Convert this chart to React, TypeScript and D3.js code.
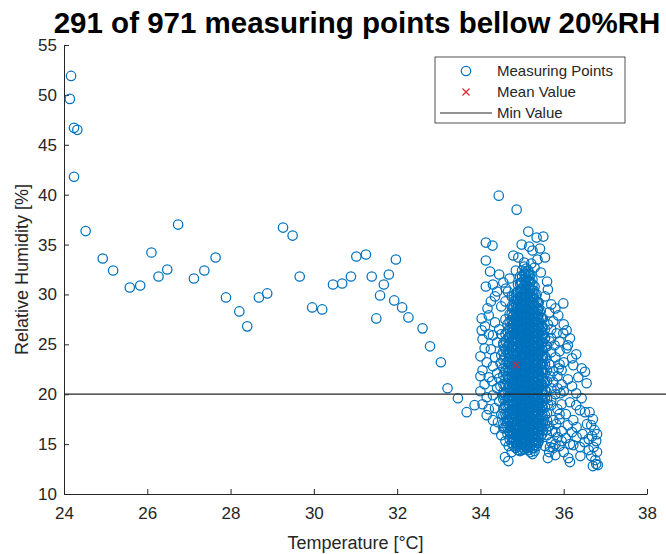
import { useEffect, useRef } from "react";
import * as d3 from "d3";

// [temperature °C, relative humidity %]
const sparsePoints: [number, number][] = [
  [24.17, 51.9], [24.14, 49.6], [24.24, 46.7], [24.32, 46.5], [24.24, 41.8],
  [24.52, 36.35], [24.93, 33.6], [25.18, 32.4], [25.58, 30.7], [25.83, 30.9],
  [26.1, 34.2], [26.27, 31.8], [26.48, 32.5], [26.74, 37.0], [27.12, 31.6],
  [27.37, 32.4], [27.64, 33.7], [27.89, 29.7], [28.21, 28.3], [28.4, 26.8],
  [28.68, 29.7], [28.88, 30.1], [29.26, 36.7], [29.49, 35.9], [29.66, 31.8],
  [29.96, 28.7], [30.2, 28.5], [30.46, 31.0], [30.68, 31.1], [30.89, 31.8],
  [31.02, 33.8], [31.25, 34.0], [31.39, 31.8], [31.59, 29.9], [31.5, 27.6],
  [31.68, 31.0], [31.8, 32.0], [31.93, 29.4], [31.97, 33.5], [32.12, 28.7],
  [32.27, 27.7], [32.61, 26.6], [32.79, 24.8], [33.05, 23.2], [33.21, 20.6],
  [33.46, 19.6], [33.67, 18.2], [33.86, 18.9],
];

const upperCluster: [number, number][] = [
  [34.44, 39.9], [34.87, 38.5], [35.15, 36.3], [35.35, 35.7], [35.51, 35.8],
  [34.13, 35.2], [34.29, 34.9], [34.99, 35.0], [35.17, 34.8], [35.25, 34.4],
  [35.43, 34.6], [34.13, 33.4], [34.79, 33.9], [34.91, 33.7], [35.37, 33.5],
  [35.55, 33.7], [34.23, 32.3], [34.45, 32.0], [34.13, 30.8], [34.61, 30.6],
  [34.66, 30.3], [34.35, 29.8], [35.55, 29.8], [35.99, 29.1], [35.87, 27.9],
  [34.17, 28.6], [34.03, 27.6], [34.11, 26.8], [34.03, 26.4], [35.83, 26.1],
  [35.99, 26.1], [36.07, 26.4], [35.05, 33.2], [35.22, 33.1], [35.3, 32.7],
  [35.45, 32.2], [34.85, 32.4], [34.7, 31.6], [35.6, 31.3], [35.62, 30.5],
  [34.55, 31.2], [34.3, 31.0], [34.4, 30.3], [35.7, 29.0], [35.65, 28.2],
  [34.25, 29.3], [34.5, 28.8], [34.2, 27.9], [34.35, 27.2], [34.45, 26.5],
  [35.75, 27.3], [35.9, 25.3], [35.7, 25.6], [36.0, 27.0], [36.15, 25.6],
  [36.1, 24.9],
];

const leftCluster: [number, number][] = [
  [34.15, 17.9], [34.59, 13.7], [34.67, 13.3], [34.05, 25.5], [34.1, 24.6],
  [34.0, 23.8], [34.15, 23.2], [34.05, 22.4], [34.2, 21.7], [34.1, 21.0],
  [34.0, 20.3], [34.15, 19.7], [34.05, 19.0], [34.2, 18.5], [34.3, 25.9],
  [34.4, 25.2], [34.25, 24.5], [34.35, 23.7], [34.3, 22.8], [34.4, 22.1],
  [34.28, 21.3], [34.4, 20.6], [34.3, 19.9], [34.45, 19.3], [34.35, 18.6],
  [34.5, 18.0], [34.42, 17.2], [34.55, 16.6], [34.5, 15.9], [34.6, 15.3],
  [34.5, 26.0], [34.55, 24.9], [34.5, 23.9], [34.48, 23.1], [34.45, 21.6],
  [34.48, 20.8], [34.55, 19.9], [34.6, 18.9], [34.62, 17.7], [34.7, 16.3],
  [34.68, 14.8], [34.75, 14.2], [34.0, 21.8], [34.35, 16.5], [34.3, 17.4],
  [34.2, 26.0], [34.6, 27.5], [34.6, 29.3], [34.75, 29.8],
];

const rightCluster: [number, number][] = [
  [36.07, 24.6], [36.43, 22.6], [36.51, 22.25], [36.23, 22.9], [36.55, 21.1],
  [36.43, 19.6], [36.39, 18.4], [36.51, 18.2], [36.23, 17.4], [36.31, 16.7],
  [36.31, 15.7], [36.23, 14.9], [36.39, 14.7], [36.11, 13.6], [36.15, 13.2],
  [36.62, 18.2], [36.7, 17.5], [36.66, 16.9], [36.74, 16.4], [36.68, 15.8],
  [36.78, 15.3], [36.72, 14.7], [36.8, 14.2], [36.66, 13.8], [36.76, 13.4],
  [36.82, 12.9], [36.7, 12.8], [36.6, 14.4], [36.6, 15.5], [36.8, 16.0],
  [36.56, 17.0], [36.78, 13.0],
  [35.6, 24.8], [35.7, 24.2], [35.8, 23.7], [35.65, 23.0], [35.75, 22.3],
  [35.85, 21.8], [35.6, 21.3], [35.7, 20.6], [35.8, 20.0], [35.6, 19.6],
  [35.7, 18.9], [35.85, 18.5], [35.6, 18.1], [35.75, 17.4], [35.65, 16.8],
  [35.8, 16.2], [35.6, 15.9], [35.7, 15.2], [35.55, 14.8], [35.65, 14.2],
  [35.8, 13.9], [35.9, 24.3], [35.9, 23.0], [35.95, 21.0], [35.85, 20.6],
  [35.6, 22.4], [35.7, 26.5], [35.62, 27.0], [35.8, 28.6], [35.55, 25.6],
  [35.6, 17.4], [35.7, 19.4], [35.58, 20.3], [35.75, 21.2], [35.8, 15.0],
  [35.62, 13.6], [35.67, 14.7],
  [36.3, 24.0], [36.2, 23.6], [36.0, 23.2], [36.35, 21.7], [36.1, 21.5],
  [35.95, 22.4], [36.2, 20.8], [36.0, 20.3], [36.3, 20.1], [36.15, 19.2],
  [35.95, 19.0], [36.3, 18.9], [36.05, 18.0], [35.9, 17.5], [36.1, 16.9],
  [35.95, 16.3], [36.05, 15.6], [36.15, 15.0], [35.9, 14.8], [36.0, 14.2],
  [35.85, 15.7], [36.2, 16.2], [36.45, 16.0], [36.5, 15.2], [36.4, 13.8],
  [35.58, 23.6], [35.68, 21.8], [35.62, 19.0], [35.72, 16.3], [35.58, 16.4],
  [35.66, 25.3], [35.78, 24.9], [35.88, 22.6], [35.92, 20.1], [35.9, 18.0],
  [35.82, 17.0], [35.75, 14.6], [35.95, 15.3],
];

// dense core of the cluster: one temperature per column, humidity values in it
const coreTemps = [
  34.55, 34.6, 34.65, 34.7, 34.75, 34.8, 34.85, 34.9, 34.95, 35.0, 35.05,
  35.1, 35.15, 35.2, 35.25, 35.3, 35.35, 35.4, 35.45, 35.5, 35.55,
];
const coreRH = [
  [17.1, 17.9, 18.6, 19.5, 20.2, 21.0, 21.9, 22.6, 23.4, 24.3, 25.1],
  [16.6, 17.3, 18.0, 18.8, 19.4, 20.1, 20.9, 21.5, 22.3, 23.0, 23.8, 24.5, 25.3, 26.0],
  [16.0, 16.7, 17.5, 18.1, 18.9, 19.6, 20.4, 21.1, 21.8, 22.6, 23.3, 24.1, 24.8, 25.6, 26.3, 27.0],
  [15.5, 16.2, 16.8, 17.6, 18.3, 18.9, 19.7, 20.3, 21.0, 21.6, 22.4, 23.0, 23.7, 24.4, 25.1, 25.8, 26.6, 27.3, 28.0],
  [15.1, 15.7, 16.4, 17.0, 17.7, 18.4, 19.0, 19.7, 20.4, 21.1, 21.7, 22.4, 23.1, 23.8, 24.5, 25.2, 25.9, 26.6, 27.4, 28.1, 28.8],
  [14.8, 15.4, 16.0, 16.6, 17.2, 17.9, 18.5, 19.1, 19.7, 20.4, 21.0, 21.6, 22.2, 22.9, 23.5, 24.1, 24.8, 25.4, 26.0, 26.7, 27.3, 28.0, 28.7, 29.3, 29.9],
  [14.6, 15.2, 15.9, 16.5, 17.0, 17.7, 18.3, 18.8, 19.5, 20.1, 20.6, 21.3, 21.9, 22.5, 23.1, 23.8, 24.3, 25.0, 25.6, 26.2, 26.9, 27.5, 28.2, 28.8, 29.5, 30.1],
  [14.4, 15.0, 15.5, 16.1, 16.7, 17.3, 17.8, 18.4, 19.0, 19.6, 20.2, 20.7, 21.3, 21.9, 22.5, 23.0, 23.6, 24.2, 24.8, 25.4, 26.0, 26.6, 27.2, 27.8, 28.4, 29.0, 29.7, 30.3, 31.0],
  [14.3, 14.9, 15.4, 16.0, 16.6, 17.1, 17.7, 18.3, 18.8, 19.4, 20.0, 20.5, 21.1, 21.7, 22.2, 22.8, 23.4, 23.9, 24.5, 25.1, 25.7, 26.3, 26.8, 27.4, 28.0, 28.6, 29.2, 29.8, 30.5, 31.1, 31.8],
  [14.4, 15.0, 15.6, 16.1, 16.7, 17.2, 17.8, 18.4, 18.9, 19.5, 20.1, 20.6, 21.2, 21.8, 22.3, 22.9, 23.5, 24.0, 24.6, 25.2, 25.8, 26.4, 27.0, 27.6, 28.2, 28.8, 29.4, 30.0, 30.6, 31.2, 31.8, 32.4],
  [14.5, 15.1, 15.7, 16.3, 16.9, 17.4, 18.0, 18.6, 19.1, 19.7, 20.3, 20.8, 21.4, 22.0, 22.5, 23.1, 23.7, 24.2, 24.8, 25.4, 26.0, 26.6, 27.2, 27.8, 28.4, 29.0, 29.6, 30.2, 30.9, 31.5, 32.1, 32.8],
  [14.6, 15.2, 15.8, 16.4, 17.0, 17.5, 18.1, 18.7, 19.2, 19.8, 20.4, 20.9, 21.5, 22.1, 22.6, 23.2, 23.8, 24.3, 24.9, 25.5, 26.1, 26.7, 27.3, 27.9, 28.5, 29.1, 29.7, 30.3, 30.9, 31.6, 32.2, 32.6],
  [14.4, 15.0, 15.6, 16.2, 16.8, 17.3, 17.9, 18.5, 19.0, 19.6, 20.2, 20.7, 21.3, 21.9, 22.4, 23.0, 23.6, 24.1, 24.7, 25.3, 25.9, 26.5, 27.1, 27.7, 28.3, 28.9, 29.5, 30.1, 30.8, 31.4, 32.0, 32.4],
  [14.2, 14.8, 15.4, 16.0, 16.6, 17.1, 17.7, 18.3, 18.8, 19.4, 20.0, 20.5, 21.1, 21.7, 22.2, 22.8, 23.4, 23.9, 24.5, 25.1, 25.7, 26.3, 26.9, 27.5, 28.1, 28.7, 29.3, 29.9, 30.6, 31.3, 32.0],
  [14.0, 14.6, 15.2, 15.8, 16.4, 16.9, 17.5, 18.1, 18.6, 19.2, 19.8, 20.3, 20.9, 21.5, 22.0, 22.6, 23.2, 23.7, 24.3, 24.9, 25.5, 26.1, 26.7, 27.3, 27.9, 28.5, 29.1, 29.7, 30.4, 31.0, 31.5],
  [14.3, 14.9, 15.5, 16.1, 16.7, 17.2, 17.8, 18.4, 18.9, 19.5, 20.1, 20.6, 21.2, 21.8, 22.3, 22.9, 23.5, 24.0, 24.6, 25.2, 25.8, 26.4, 27.0, 27.6, 28.2, 28.8, 29.5, 30.1, 30.8],
  [14.8, 15.4, 16.0, 16.6, 17.1, 17.7, 18.3, 18.8, 19.4, 20.0, 20.5, 21.1, 21.7, 22.2, 22.8, 23.4, 23.9, 24.5, 25.1, 25.7, 26.3, 26.9, 27.5, 28.1, 28.7, 29.3, 30.0],
  [15.3, 15.9, 16.5, 17.1, 17.6, 18.2, 18.8, 19.3, 19.9, 20.5, 21.0, 21.6, 22.2, 22.7, 23.3, 23.9, 24.4, 25.0, 25.6, 26.2, 26.8, 27.4, 28.0, 28.6, 29.2],
  [15.8, 16.5, 17.1, 17.8, 18.4, 19.1, 19.7, 20.4, 21.0, 21.7, 22.3, 23.0, 23.6, 24.3, 24.9, 25.6, 26.3, 27.0, 27.7, 28.4],
  [16.4, 17.1, 17.8, 18.6, 19.3, 20.0, 20.8, 21.5, 22.2, 23.0, 23.7, 24.4, 25.2, 25.9, 26.7, 27.6],
  [17.0, 17.9, 18.7, 19.6, 20.4, 21.3, 22.1, 23.0, 23.8, 24.7, 25.6, 26.5],
];

// second, offset set of core columns (the core is solid in the picture)
const coreTemps2 = [34.68, 34.78, 34.88, 34.98, 35.08, 35.18, 35.28, 35.38, 35.48];
const coreRH2 = [
  [17.4, 18.2, 19.0, 19.8, 20.7, 21.5, 22.3, 23.2, 24.0, 24.9, 25.7],
  [15.4, 16.1, 16.8, 17.5, 18.1, 18.8, 19.4, 20.1, 20.8, 21.4, 22.1, 22.7, 23.4, 24.1, 24.8, 25.5, 26.3, 27.0, 27.8, 28.6],
  [14.9, 15.6, 16.3, 16.9, 17.5, 18.1, 18.7, 19.3, 19.9, 20.5, 21.1, 21.7, 22.3, 22.9, 23.5, 24.1, 24.7, 25.3, 25.9, 26.5, 27.2, 27.9, 28.6, 29.4, 30.2],
  [14.7, 15.3, 15.9, 16.4, 17.0, 17.6, 18.1, 18.7, 19.3, 19.8, 20.4, 21.0, 21.5, 22.1, 22.7, 23.2, 23.8, 24.4, 24.9, 25.5, 26.1, 26.7, 27.3, 27.9, 28.5, 29.1, 29.8, 30.5, 31.2],
  [14.8, 15.4, 16.0, 16.6, 17.1, 17.7, 18.3, 18.9, 19.4, 20.0, 20.6, 21.1, 21.7, 22.3, 22.8, 23.4, 24.0, 24.5, 25.1, 25.7, 26.3, 26.9, 27.5, 28.1, 28.7, 29.3, 29.9, 30.6, 31.3, 32.0],
  [14.7, 15.3, 15.9, 16.5, 17.0, 17.6, 18.2, 18.7, 19.3, 19.9, 20.4, 21.0, 21.6, 22.1, 22.7, 23.3, 23.8, 24.4, 25.0, 25.6, 26.2, 26.8, 27.4, 28.0, 28.6, 29.2, 29.8, 30.5, 31.2, 31.9],
  [14.6, 15.2, 15.8, 16.3, 16.9, 17.5, 18.0, 18.6, 19.2, 19.7, 20.3, 20.9, 21.4, 22.0, 22.6, 23.1, 23.7, 24.3, 24.8, 25.4, 26.0, 26.6, 27.2, 27.8, 28.4, 29.0, 29.7, 30.4],
  [15.1, 15.7, 16.3, 16.9, 17.4, 18.0, 18.6, 19.1, 19.7, 20.3, 20.8, 21.4, 22.0, 22.5, 23.1, 23.7, 24.2, 24.8, 25.4, 26.0, 26.6, 27.2, 27.8, 28.5, 29.2],
  [16.0, 16.8, 17.5, 18.2, 18.9, 19.6, 20.3, 21.0, 21.7, 22.4, 23.1, 23.8, 24.5, 25.2, 26.0, 26.8, 27.6],
];

const meanTemp = 34.86;
const meanRH = 22.95;
const minRH = 20;

const xTicks = [24, 26, 28, 30, 32, 34, 36, 38];
const yTicks = [10, 15, 20, 25, 30, 35, 40, 45, 50, 55];
const titleText = "291 of 971 measuring points bellow 20%RH";
const xLabel = "Temperature [°C]";
const yLabel = "Relative Humidity [%]";
const legendLabels = ["Measuring Points", "Mean Value", "Min Value"];

const App = () => {
  const ref = useRef<SVGSVGElement>(null);
  const width = 666;
  const height = 554;

  useEffect(() => {
    document.body.style.margin = "0";
    const svg = d3.select(ref.current);
    svg.selectAll("*").remove();

    const font = "'Liberation Sans', Arial, Helvetica, sans-serif";
    const axisColor = "#262626";
    const blue = "#0072BD";

    const x = d3.scaleLinear().domain([24, 38]).range([64, 647]);
    const y = d3.scaleLinear().domain([10, 55]).range([494, 45]);

    const points = [
      ...sparsePoints,
      ...upperCluster,
      ...leftCluster,
      ...rightCluster,
      ...coreTemps.flatMap((t, i) => coreRH[i].map((h) => [t, h])),
      ...coreTemps2.flatMap((t, i) => coreRH2[i].map((h) => [t, h])),
    ];

    // axes (MATLAB style: ticks pointing inwards, no box)
    const gx = svg
      .append("g")
      .attr("transform", `translate(0,${y(10)})`)
      .call(
        d3.axisBottom(x).tickValues(xTicks).tickSizeInner(-5).tickSizeOuter(0).tickPadding(13)
      );
    const gy = svg
      .append("g")
      .attr("transform", `translate(${x(24)},0)`)
      .call(
        d3.axisLeft(y).tickValues(yTicks).tickSizeInner(-5).tickSizeOuter(0).tickPadding(7)
      );
    [gx, gy].forEach((g) => {
      g.attr("font-family", font).attr("font-size", 17);
      g.select(".domain").attr("stroke", axisColor);
      g.selectAll(".tick line").attr("stroke", axisColor);
      g.selectAll(".tick text").attr("fill", axisColor);
    });

    // measuring points
    svg
      .append("g")
      .attr("fill", "none")
      .attr("stroke", blue)
      .attr("stroke-width", 1.25)
      .selectAll("circle")
      .data(points)
      .join("circle")
      .attr("cx", (d) => x(d[0]))
      .attr("cy", (d) => y(d[1]))
      .attr("r", 4.7);

    // mean value
    const cross = "M-3.5,-3.5L3.5,3.5M-3.5,3.5L3.5,-3.5";
    svg
      .append("path")
      .attr("transform", `translate(${x(meanTemp)},${y(meanRH)})`)
      .attr("d", cross)
      .attr("stroke", "#e0202a")
      .attr("stroke-width", 1.1)
      .attr("fill", "none");

    // min value line
    svg
      .append("line")
      .attr("x1", x(24))
      .attr("x2", width)
      .attr("y1", y(minRH))
      .attr("y2", y(minRH))
      .attr("stroke", axisColor)
      .attr("stroke-width", 1.2);

    // labels
    svg
      .append("text")
      .attr("x", 357)
      .attr("y", 33)
      .attr("text-anchor", "middle")
      .attr("font-family", font)
      .attr("font-weight", "bold")
      .attr("font-size", 29.5)
      .attr("fill", "#000")
      .text(titleText);

    svg
      .append("text")
      .attr("x", (x(24) + x(38)) / 2)
      .attr("y", 549)
      .attr("text-anchor", "middle")
      .attr("font-family", font)
      .attr("font-size", 18)
      .attr("fill", axisColor)
      .text(xLabel);

    svg
      .append("text")
      .attr("transform", `translate(28,${(y(10) + y(55)) / 2}) rotate(-90)`)
      .attr("text-anchor", "middle")
      .attr("font-family", font)
      .attr("font-size", 18)
      .attr("fill", axisColor)
      .text(yLabel);

    // legend
    const lg = svg.append("g").attr("font-family", font).attr("font-size", 15);
    lg.append("rect")
      .attr("x", 435)
      .attr("y", 57)
      .attr("width", 190)
      .attr("height", 66)
      .attr("fill", "white")
      .attr("stroke", axisColor)
      .attr("stroke-width", 0.8);
    const rowY = [71, 92, 113];
    lg.append("circle")
      .attr("cx", 466)
      .attr("cy", rowY[0])
      .attr("r", 4.7)
      .attr("fill", "none")
      .attr("stroke", blue)
      .attr("stroke-width", 1.25);
    lg.append("path")
      .attr("transform", `translate(466,${rowY[1]})`)
      .attr("d", cross)
      .attr("stroke", "#e0202a")
      .attr("stroke-width", 1.1);
    lg.append("line")
      .attr("x1", 440)
      .attr("x2", 492)
      .attr("y1", rowY[2])
      .attr("y2", rowY[2])
      .attr("stroke", axisColor)
      .attr("stroke-width", 1.2);
    lg.selectAll("text.lab")
      .data(legendLabels)
      .join("text")
      .attr("class", "lab")
      .attr("x", 497)
      .attr("y", (d, i) => rowY[i] + 5)
      .attr("fill", axisColor)
      .text((d) => d);
  }, []);

  return (
    <svg
      ref={ref}
      width={width}
      height={height}
      style={{ display: "block", background: "white" }}
    />
  );
};

export default App;
